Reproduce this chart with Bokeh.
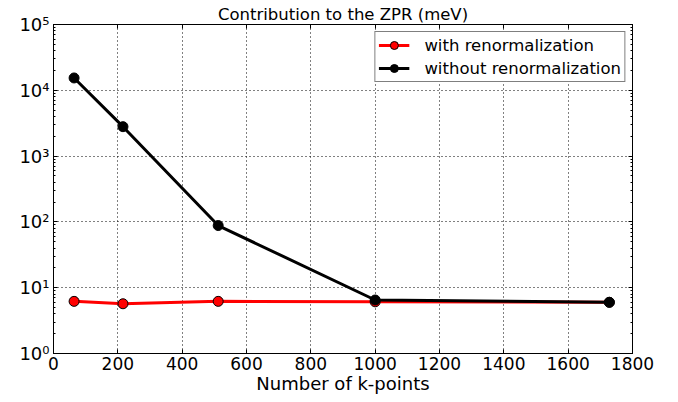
from bokeh.plotting import figure
from bokeh.models import (LogAxis, LinearAxis, LogTicker, FixedTicker, CustomJSTickFormatter,
                          Range1d, Legend, LegendItem)
from bokeh.embed import file_html
from bokeh.resources import INLINE

kpoints = [64, 216, 512, 1000, 1728]
with_renorm = [6.2, 5.7, 6.2, 6.1, 6.0]
without_renorm = [15400, 2800, 88, 6.5, 6.0]
x_ticks = [0, 200, 400, 600, 800, 1000, 1200, 1400, 1600, 1800]

FONT = "DejaVu Sans"

p = figure(width=678, height=402, y_axis_type="log",
           x_range=Range1d(0, 1800), y_range=Range1d(1, 1e5),
           output_backend="svg", toolbar_location=None,
           min_border_left=53, min_border_right=46, min_border_top=24, min_border_bottom=49)
p.background_fill_color = "white"
p.border_fill_color = "white"
p.outline_line_color = "black"
p.outline_line_width = 1

p.title.text = "Contribution to the ZPR (meV)"
p.title.align = "center"
p.title.text_font = FONT
p.title.text_font_size = "16.5px"
p.title.text_font_style = "normal"
p.title.text_color = "black"
p.title.offset = 0
p.title.standoff = 2

sup = CustomJSTickFormatter(code="""
const s = {'0':'\u2070','1':'\u00b9','2':'\u00b2','3':'\u00b3','4':'\u2074','5':'\u2075','6':'\u2076','7':'\u2077','8':'\u2078','9':'\u2079','-':'\u207b'};
const e = Math.round(Math.log10(tick)).toString();
return '10' + e.split('').map(c => s[c]).join('');
""")

xa = p.xaxis[0]
xa.ticker = FixedTicker(ticks=x_ticks)
xa.axis_label = "Number of k-points"
xa.axis_label_text_font = FONT
xa.axis_label_text_font_size = "18px"
xa.axis_label_text_font_style = "normal"
xa.axis_label_text_color = "black"
xa.axis_label_standoff = 0
xa.major_label_text_font = FONT
xa.major_label_text_font_size = "17px"
xa.major_label_text_color = "black"
xa.major_label_standoff = 3
xa.major_tick_in = 4
xa.major_tick_out = 0
xa.minor_tick_line_color = None
xa.axis_line_color = "black"

ya = p.yaxis[0]
ya.ticker = LogTicker(mantissas=[1], num_minor_ticks=10)
ya.formatter = sup
ya.major_label_text_font = FONT
ya.major_label_text_font_size = "18px"
ya.major_label_text_color = "black"
ya.major_label_standoff = 4
ya.major_tick_in = 4
ya.major_tick_out = 0
ya.minor_tick_in = 2
ya.minor_tick_out = 0
ya.axis_line_color = "black"

# mirrored tick axes (top and right), labels hidden
top = LinearAxis(ticker=FixedTicker(ticks=x_ticks), major_label_text_font_size="2px",
                 major_label_text_color=None, major_label_text_alpha=0,
                 major_label_standoff=0, major_tick_in=4, major_tick_out=0,
                 minor_tick_line_color=None, axis_line_color="black")
right = LogAxis(ticker=LogTicker(mantissas=[1], num_minor_ticks=10), major_label_text_font_size="2px",
                major_label_text_color=None, major_label_text_alpha=0,
                major_label_standoff=0, major_tick_in=4, major_tick_out=0,
                minor_tick_in=2, minor_tick_out=0, axis_line_color="black")
p.add_layout(top, "above")
p.add_layout(right, "right")

for g in (p.xgrid[0], p.ygrid[0]):
    g.grid_line_color = "black"
    g.grid_line_dash = "1 3"
    g.grid_line_width = 1
p.xgrid[0].ticker = FixedTicker(ticks=x_ticks)
p.ygrid[0].ticker = LogTicker(mantissas=[1])

r1l = p.line(kpoints, with_renorm, line_color="red", line_width=3)
r1c = p.scatter(kpoints, with_renorm, size=10, fill_color="red", line_color="black", line_width=1)
r2l = p.line(kpoints, without_renorm, line_color="black", line_width=3)
r2c = p.scatter(kpoints, without_renorm, size=10, fill_color="black", line_color="black", line_width=1)

legend = Legend(items=[
    LegendItem(label="with renormalization", renderers=[r1l, r1c]),
    LegendItem(label="without renormalization", renderers=[r2l, r2c]),
], location="top_right")
legend.label_text_font = FONT
legend.label_text_font_size = "16.5px"
legend.label_text_color = "black"
legend.border_line_color = "black"
legend.border_line_width = 1
legend.background_fill_alpha = 1
legend.glyph_width = 31
legend.glyph_height = 20
legend.label_height = 20
legend.label_standoff = 15
legend.spacing = 3
legend.padding = 3
legend.margin = 7
p.add_layout(legend, "center")

open("out.html", "w").write(file_html(p, INLINE))
